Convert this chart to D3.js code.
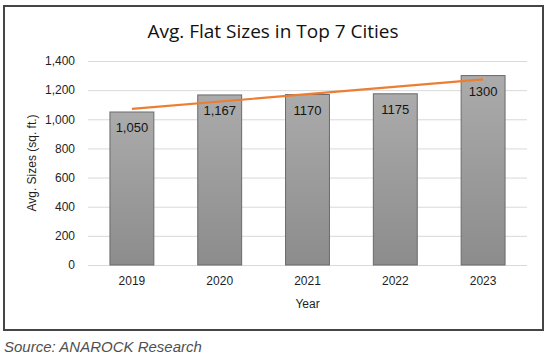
<!DOCTYPE html>
<html><head><meta charset="utf-8">
<script src="https://cdn.jsdelivr.net/npm/d3@7"></script>
<style>body{margin:0;background:#fff;} svg{display:block;}</style>
</head><body>
<svg id="c" width="550" height="359"></svg>
<script>
const years = ["2019","2020","2021","2022","2023"];
const sizes = [1050,1167,1170,1175,1300];
const labels = ["1,050","1,167","1170","1175","1300"];
const yTicks = [0,200,400,600,800,1000,1200,1400];

const svg = d3.select("#c");
const m = {l:88, r:527, t:61, b:265};
const x = d3.scaleBand().domain(years).range([m.l,m.r]).paddingInner(0.5).paddingOuter(0.25);
const y = d3.scaleLinear().domain([0,1400]).range([m.b,m.t]);

const defs = svg.append("defs");
const g = defs.append("linearGradient").attr("id","bg").attr("x1",0).attr("y1",0).attr("x2",0).attr("y2",1);
g.append("stop").attr("offset","0%").attr("stop-color","#ababab");
g.append("stop").attr("offset","100%").attr("stop-color","#8c8c8c");

// frame
svg.append("rect").attr("x",4).attr("y",6).attr("width",539).attr("height",324)
  .attr("fill","#fff").attr("stroke","#454545").attr("stroke-width",2);

// title
svg.append("text").attr("x",273).attr("y",38).attr("text-anchor","middle")
  .attr("font-family","Open Sans").attr("font-size",19).attr("fill","#111")
  .text("Avg. Flat Sizes in Top 7 Cities");

// grid
const yAxis = d3.axisLeft(y).tickValues(yTicks).tickFormat(d3.format(",")).tickSize(-(m.r-m.l)).tickPadding(13);
const ya = svg.append("g").attr("transform",`translate(${m.l},0)`).call(yAxis);
ya.select(".domain").remove();
ya.selectAll(".tick line").attr("stroke","#d9d9d9");
ya.selectAll(".tick text").attr("font-family","Liberation Sans, Arial").attr("font-size",12).attr("fill","#1e1e1e");

// bars
svg.append("g").selectAll("rect").data(years).join("rect")
  .attr("x",d=>x(d)).attr("width",x.bandwidth())
  .attr("y",(d,i)=>y(sizes[i])).attr("height",(d,i)=>y(0)-y(sizes[i]))
  .attr("fill","url(#bg)").attr("stroke","#6a6a6a").attr("stroke-width",1);

// data labels
svg.append("g").selectAll("text").data(years).join("text")
  .attr("x",d=>x(d)+x.bandwidth()/2).attr("y",(d,i)=>y(sizes[i])+20)
  .attr("text-anchor","middle").attr("font-family","Liberation Sans, Arial").attr("font-size",13)
  .attr("fill","#141414").text((d,i)=>labels[i]);

// x axis labels
const xAxis = d3.axisBottom(x).tickSize(0).tickPadding(11);
const xa = svg.append("g").attr("transform",`translate(0,${m.b})`).call(xAxis);
xa.select(".domain").remove();
xa.selectAll(".tick text").attr("font-family","Liberation Sans, Arial").attr("font-size",12).attr("fill","#1e1e1e");

// linear trendline
const n = sizes.length, idx = d3.range(n);
const mx = d3.mean(idx), my = d3.mean(sizes);
const slope = d3.sum(idx,i=>(i-mx)*(sizes[i]-my))/d3.sum(idx,i=>(i-mx)*(i-mx));
const icpt = my - slope*mx;
const trend = [0,n-1].map(i=>[x(years[i])+x.bandwidth()/2, y(icpt+slope*i)]);
svg.append("path").attr("d",d3.line()(trend)).attr("stroke","#ED7D31").attr("stroke-width",2.2).attr("fill","none");

// axis titles
svg.append("text").attr("transform",`translate(36,${(m.t+m.b)/2}) rotate(-90)`)
  .attr("text-anchor","middle").attr("font-family","Liberation Sans, Arial").attr("font-size",12).attr("fill","#1e1e1e")
  .text("Avg. Sizes (sq. ft.)");
svg.append("text").attr("x",(m.l+m.r)/2).attr("y",308).attr("text-anchor","middle")
  .attr("font-family","Liberation Sans, Arial").attr("font-size",12).attr("fill","#1e1e1e").text("Year");

// source
svg.append("text").attr("x",4).attr("y",352).attr("font-family","Liberation Sans, Arial").attr("font-style","italic")
  .attr("font-size",15).attr("fill","#505050").text("Source: ANAROCK Research");
</script>
</body></html>
